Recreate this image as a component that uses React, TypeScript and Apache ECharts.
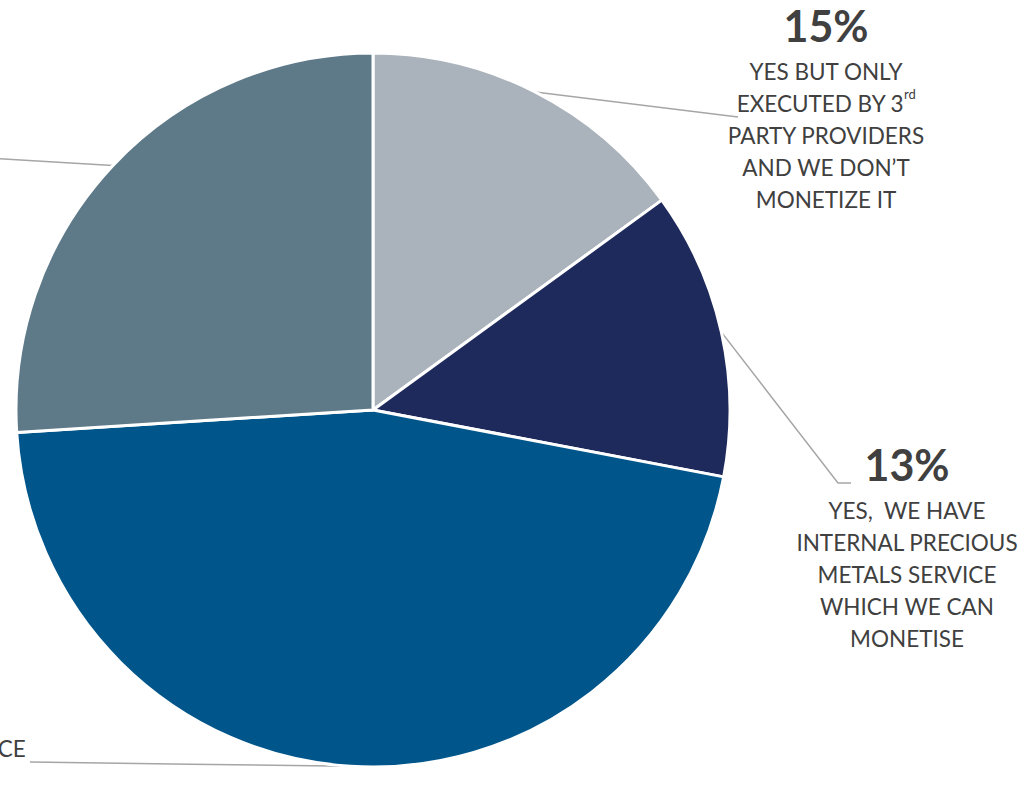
import React, { useEffect, useRef } from "react";
import * as echarts from "echarts";

const categories = [
  "YES BUT ONLY\nEXECUTED BY 3{s|rd}\nPARTY PROVIDERS\nAND WE DON’T\nMONETIZE IT",
  "YES,  WE HAVE\nINTERNAL PRECIOUS\nMETALS SERVICE\nWHICH WE CAN\nMONETISE",
  "NO, WE DON’T OFFER ANY PRECIOUS METALS SERVICE",
  "NO, BUT WE ARE PLANNING TO OFFER IT",
];
const values = [15, 13, 46, 26];
const colors = ["#aab2bb", "#1f2a5c", "#00558a", "#5e7a89"];

export default function App() {
  const ref = useRef<HTMLDivElement>(null);
  useEffect(() => {
    if (!ref.current) return;
    const chart = echarts.init(ref.current, null, { renderer: "svg" });
    const font = "Lato, 'Open Sans', sans-serif";
    const rich = {
      p: { fontSize: 43, fontWeight: "bold", lineHeight: 46, color: "#404040", fontFamily: font, align: "center" },
      g: { fontSize: 1, lineHeight: 7, color: "rgba(0,0,0,0)", fontFamily: font, align: "center" },
      t: { fontSize: 22.5, lineHeight: 32, color: "#404040", fontFamily: font, align: "center" },
      s: { fontSize: 13, lineHeight: 30, verticalAlign: "top", color: "#404040", fontFamily: font },
    };
    const formatLabel = (idx: number) => {
      const name = categories[idx];
      if (idx < 2) {
        const lines = name.split("\n").map((l) => (l.includes("{s|") ? "{t|" + l.replace("{s|rd}", "}{s|rd}") : "{t|" + l + "}"));
        return "{p|" + values[idx] + "%}\n{g| }\n" + lines.join("\n");
      }
      return "{t|" + values[idx] + "%  " + name + "}";
    };
    // label anchors (text block positions) and leader-line ends
    const anchors = [
      { x: 826, y: 2, align: "center", va: "top", end: [738, 117], mid: null as number[] | null },
      { x: 907, y: 441, align: "center", va: "top", end: [851, 483], mid: [838, 483] },
      { x: 27, y: 748, align: "right", va: "middle", end: [30, 762], mid: null },
      { x: -30, y: 157, align: "right", va: "middle", end: [-30, 157], mid: null },
    ];
    chart.setOption({
      animation: false,
      backgroundColor: "#ffffff",
      series: [
        {
          type: "pie",
          center: [373, 410],
          radius: 357,
          startAngle: 90,
          clockwise: true,
          avoidLabelOverlap: false,
          itemStyle: { borderColor: "#ffffff", borderWidth: 3 },
          label: {
            show: true,
            position: "outside",
            formatter: (p: any) => formatLabel(p.dataIndex),
            rich,
          },
          labelLine: { show: true, lineStyle: { color: "#a6a6a6", width: 1.5 } },
          labelLayout: (params: any) => {
            const a = anchors[params.dataIndex];
            const start = params.labelLinePoints ? params.labelLinePoints[0] : a.end;
            const mid = a.mid || [(start[0] + a.end[0]) / 2, (start[1] + a.end[1]) / 2];
            return {
              x: a.x,
              y: a.y,
              align: a.align,
              verticalAlign: a.va,
              labelLinePoints: [start, mid, a.end],
            };
          },
          data: values.map((v, i) => ({
            value: v,
            name: categories[i],
            itemStyle: { color: colors[i] },
          })),
        },
      ],
    });
    return () => chart.dispose();
  }, []);
  return <div ref={ref} style={{ position: "absolute", left: 0, top: 0, width: 1036, height: 791 }} />;
}
